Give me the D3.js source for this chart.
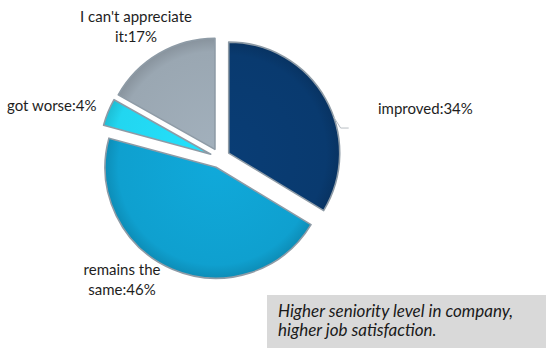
<!DOCTYPE html>
<html>
<head>
<meta charset="utf-8">
<script src="https://cdn.jsdelivr.net/npm/d3@7"></script>
<style>
  body { margin: 0; background: #fff; }
  svg { display: block; }
  .lbl { font-family: Lato, sans-serif; font-size: 15px; fill: #1e1e1e; }
  .note { font-family: Lato, sans-serif; font-style: italic; font-size: 17px; fill: #1a1a1a; }
</style>
</head>
<body>
<div id="chart-area"></div>
<script>
var width = 550, height = 354;

// data
var categories = ["improved", "remains the same", "got worse", "I can't appreciate it"];
var values = [34, 46, 4, 17];
var colors = ["#093a6f", "#0fa0cf", "#22d6f0", "#9aa7b2"];
var labelLines = [
  ["improved:34%"],
  ["remains the", "same:46%"],
  ["got worse:4%"],
  ["I can't appreciate", "it:17%"]
];
var noteLines = ["Higher seniority level in company,", "higher job satisfaction."];

var cx = 220, cy = 158, radius = 111, explode = 10;

var svg = d3.select("#chart-area")
  .append("svg")
  .attr("width", width)
  .attr("height", height);

var defs = svg.append("defs");
colors.forEach(function (c, i) {
  var grad = defs.append("radialGradient")
    .attr("id", "g" + i)
    .attr("gradientUnits", "userSpaceOnUse")
    .attr("cx", 0).attr("cy", 0).attr("r", radius);
  grad.append("stop").attr("offset", "0%").attr("stop-color", d3.color(c).brighter(0.15));
  grad.append("stop").attr("offset", "88%").attr("stop-color", c);
  grad.append("stop").attr("offset", "100%").attr("stop-color", d3.color(c).darker(0.35));
});

var pie = d3.pie().sort(null).value(function (d) { return d; });
var arc = d3.arc().innerRadius(0).outerRadius(radius);
var arcs = pie(values);

var g = svg.append("g")
  .attr("transform", "translate(" + cx + "," + cy + ")");

g.selectAll("path.slice")
  .data(arcs)
  .enter()
  .append("path")
  .attr("class", "slice")
  .attr("transform", function (d) {
    var a = (d.startAngle + d.endAngle) / 2;
    return "translate(" + (Math.sin(a) * explode) + "," + (-Math.cos(a) * explode) + ")";
  })
  .attr("d", arc)
  .attr("fill", function (d, i) { return "url(#g" + i + ")"; })
  .attr("stroke", "#8e9ba6")
  .attr("stroke-width", 1.6)
  .attr("stroke-linejoin", "round");

// labels (positions)
var labelPos = [
  {x: 378, y: 114, anchor: "start"},
  {x: 122, y: 275, anchor: "middle"},
  {x: 7, y: 111, anchor: "start"},
  {x: 136, y: 22, anchor: "middle"}
];

categories.forEach(function (c, i) {
  var t = svg.append("text")
    .attr("class", "lbl")
    .attr("text-anchor", labelPos[i].anchor)
    .attr("x", labelPos[i].x)
    .attr("y", labelPos[i].y);
  labelLines[i].forEach(function (line, j) {
    t.append("tspan")
      .attr("x", labelPos[i].x)
      .attr("dy", j == 0 ? 0 : 20)
      .text(line);
  });
});

// leader line for "improved"
var a0 = (arcs[0].startAngle + arcs[0].endAngle) / 2;
var la = 1.24;
var px = cx + Math.sin(a0) * explode + Math.sin(la) * radius;
var py = cy - Math.cos(a0) * explode - Math.cos(la) * radius;
svg.append("polyline")
  .attr("points", [[px, py], [px + 7, py + 11], [px + 15, py + 11]].map(function (p) { return p.join(","); }).join(" "))
  .attr("fill", "none")
  .attr("stroke", "#b8bec4")
  .attr("stroke-width", 1);

// note box
svg.append("rect")
  .attr("x", 267)
  .attr("y", 295)
  .attr("width", 279)
  .attr("height", 53)
  .attr("fill", "#d9d9d9");

var note = svg.append("text")
  .attr("class", "note")
  .attr("x", 278)
  .attr("y", 317);
noteLines.forEach(function (line, j) {
  note.append("tspan")
    .attr("x", 278)
    .attr("dy", j == 0 ? 0 : 19)
    .text(line);
});
</script>
</body>
</html>
